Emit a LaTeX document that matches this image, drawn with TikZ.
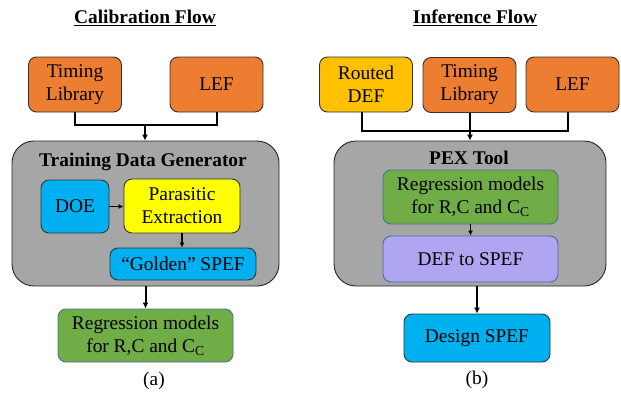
\documentclass[tikz,border=0pt]{standalone}
\usepackage{fontspec}
\setmainfont{Liberation Serif}
\usetikzlibrary{arrows.meta}
\definecolor{corange}{HTML}{ED7D31}
\definecolor{cgold}{HTML}{FFC000}
\definecolor{cgray}{HTML}{A6A6A6}
\definecolor{cblue}{HTML}{00B0F0}
\definecolor{cyellow}{HTML}{FFFF00}
\definecolor{cgreen}{HTML}{70AD47}
\definecolor{clav}{HTML}{B0A5F0}
\definecolor{cedge}{HTML}{41719C}
\tikzset{
  txt/.style={font=\fontsize{19.4}{23}\selectfont, align=center},
  box/.style={txt, draw=black!80, line width=0.9pt, rounded corners=8pt, inner sep=0pt},
  obox/.style={box, fill=corange, minimum width=93pt, minimum height=55pt},
  gbox/.style={draw=black!85, line width=0.9pt, fill=cgray, rounded corners=22pt, inner sep=0pt},
  conn/.style={line width=2pt},
  arr/.style={line width=2pt, -{Latex[length=6pt,width=6pt]}},
  sarr/.style={line width=1.5pt, -{Latex[length=5pt,width=5pt]}},
}
\begin{document}
\begin{tikzpicture}[x=1pt,y=-1pt]
\useasboundingbox (0,0) rectangle (621,392);
% ---------- Calibration flow ----------
\node[txt, font=\fontsize{19.4}{23}\selectfont\bfseries] (ttl1) at (145,18) {\underline{Calibration Flow}};
\node[obox] (tl1) at (75,84.5) {Timing\\Library};
\node[obox] (lef1) at (216.5,84.5) {LEF};
\node[gbox, minimum width=267pt, minimum height=145pt] (tdg) at (145.5,213.5) {};
\node[txt, font=\fontsize{19.4}{23}\selectfont\bfseries] (tdgt) at (143,162) {Training Data Generator};
\node[box, fill=cblue, minimum width=68pt, minimum height=53pt] (doe) at (75,206.5) {DOE};
\node[box, fill=cyellow, minimum width=116pt, minimum height=54pt] (pe) at (182,206) {Parasitic\\Extraction};
\node[box, fill=cblue, minimum width=146pt, minimum height=32pt] (gs) at (183,264) {``Golden'' SPEF};
\node[box, draw=cedge, fill=cgreen, minimum width=175pt, minimum height=53pt] (rm1) at (145.5,335.5) {Regression models\\for R,C and C\textsubscript{C}};
\node[txt] (la) at (154,381) {(a)};
\coordinate (j1) at (145,125);
\draw[conn] (tl1.south) |- (j1) -| (lef1.south);
\draw[arr] (j1) -- (j1 |- tdg.north);
\draw[sarr] (doe.east) -- (pe.west |- doe.east);
\draw[sarr] (pe.south) -- (pe.south |- gs.north);
\draw[arr] (rm1.north |- tdg.south) -- (rm1.north);
% ---------- Inference flow ----------
\node[txt, font=\fontsize{19.4}{23}\selectfont\bfseries] (ttl2) at (475,18) {\underline{Inference Flow}};
\node[obox, fill=cgold] (rd) at (366,84.5) {Routed\\DEF};
\node[obox] (tl2) at (469.5,85) {Timing\\Library};
\node[obox] (lef2) at (572.5,84.5) {LEF};
\node[gbox, minimum width=272pt, minimum height=145pt] (pex) at (470,213.5) {};
\node[txt, font=\fontsize{19.4}{23}\selectfont\bfseries] (pext) at (469,158) {PEX Tool};
\node[box, draw=cedge, fill=cgreen, minimum width=175pt, minimum height=54pt] (rm2) at (470.5,197) {Regression models\\for R,C and C\textsubscript{C}};
\node[box, draw=cedge, fill=clav, minimum width=175pt, minimum height=46pt] (d2s) at (470.5,259) {DEF to SPEF};
\node[box, fill=cblue, minimum width=146pt, minimum height=48pt] (ds) at (477,338) {Design SPEF};
\node[txt] (lb) at (477,380) {(b)};
\coordinate (j2) at (470,131);
\draw[conn] ([xshift=-4pt]rd.south) |- (j2) -| ([xshift=-5pt]lef2.south);
\draw[conn] (tl2.south) -- (tl2.south |- j2);
\draw[arr] (j2) -- (j2 |- pex.north);
\draw[sarr] (rm2.south) -- (rm2.south |- d2s.north);
\draw[arr] (ds.north |- pex.south) -- (ds.north);
\end{tikzpicture}
\end{document}
